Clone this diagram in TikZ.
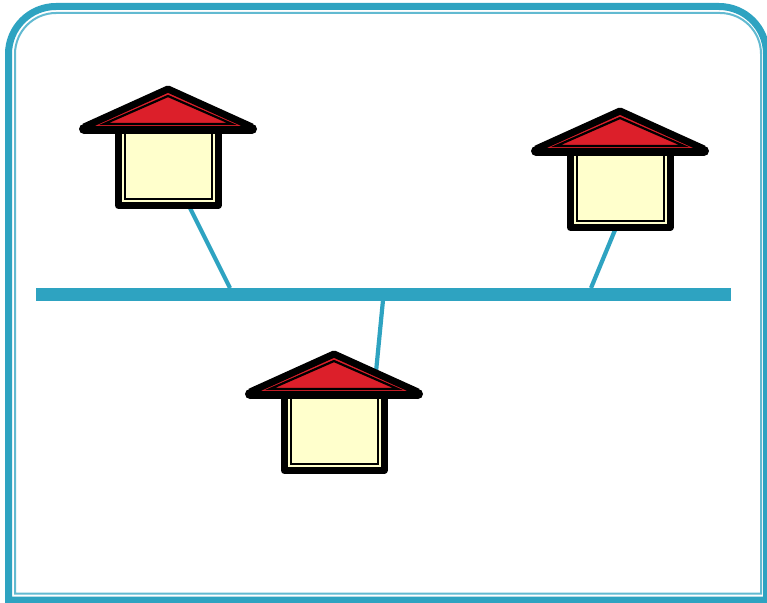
\documentclass[tikz,border=0pt]{standalone}
\definecolor{netblue}{HTML}{2EA3C1}
\definecolor{roofred}{HTML}{DC1F2A}
\definecolor{wallcream}{HTML}{FFFFCC}
\tikzset{
  x=1pt,y=-1pt,
  thickframe/.style={draw=netblue,line width=7pt},
  thinframe/.style={draw=netblue!75!white,line width=2pt},
  busbar/.style={fill=netblue,draw=none,inner sep=0pt,minimum width=695pt,minimum height=13pt},
  linkline/.style={draw=netblue,line width=4.2pt},
  wallouter/.style={draw=black,fill=wallcream,line width=7pt,line join=round},
  wallinner/.style={draw=black,line width=2pt},
  roofslope/.style={draw=black,fill=roofred,line width=7pt,line join=round},
  roofbase/.style={draw=black,line width=8pt,line cap=butt},
  rooftip/.style={fill=black},
  roofinner/.style={draw=black,line width=2.2pt,line join=miter},
  house/.pic={
    \path[wallouter] (118.5,128) -- (118.5,205.5) -- (218,205.5) -- (218,128);
    \path[wallinner] (125,128) -- (125,199) -- (211.5,199) -- (211.5,128);
    \path[roofslope] (84,127) -- (168,89) -- (252,127);
    \path[roofbase] (84,130) -- (252,130);
    \path[rooftip] (84,129) circle[radius=5pt] (252,129) circle[radius=5pt];
    \path[roofinner] (104,124) -- (168,96) -- (232,124) -- cycle;
  }
}
\begin{document}
\begin{tikzpicture}
\useasboundingbox (0,0) rectangle (767,602);
\fill[white] (0,0) rectangle (767,602);
\path[thickframe] (8.5,600) -- (8.5,54) .. controls (8.5,27.8) and (29.8,6.5) .. (56,6.5) -- (719,6.5) .. controls (745.2,6.5) and (766.5,27.8) .. (766.5,54) -- (766.5,600) -- cycle;
\path[thinframe] (15,593.5) -- (15,54) .. controls (15,31.4) and (33.4,13) .. (56,13) -- (720,13) .. controls (742.6,13) and (761,31.4) .. (761,54) -- (761,593.5) -- cycle;
\coordinate (housea) at (190,208);
\coordinate (houseb) at (615,230);
\coordinate (housec) at (376,372);
\node[busbar,anchor=north west] (bus) at (36,288) {};
\coordinate (busa) at (230,288);
\coordinate (busb) at (591,288);
\coordinate (busc) at (383,300);
\draw[linkline] (housea) -- (busa);
\draw[linkline] (houseb) -- (busb);
\draw[linkline] (housec) -- (busc);
\pic at (0,0) {house};
\pic at (452,22) {house};
\pic at (166,265) {house};
\end{tikzpicture}
\end{document}
